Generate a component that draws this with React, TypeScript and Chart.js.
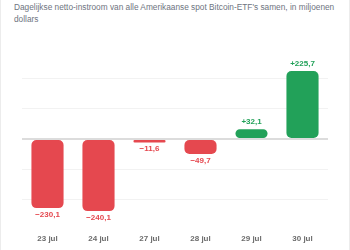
import React, { useEffect, useRef } from "react";
import { Chart, registerables } from "chart.js";

Chart.register(...registerables);

const days = ["23 jul", "24 jul", "27 jul", "28 jul", "29 jul", "30 jul"];
const netFlows = [-230.1, -240.1, -11.6, -49.7, 32.1, 225.7];
const titleLines = [
  "Dagelijkse netto-instroom van alle Amerikaanse spot Bitcoin-ETF's samen, in miljoenen",
  "dollars",
];

const RED = "#e5484f";
const GREEN = "#22a159";

const fmt = (v: number) => (v > 0 ? "+" : "\u2212") + Math.abs(v).toFixed(1).replace(".", ",");

const valueLabels = {
  id: "valueLabels",
  afterDatasetsDraw(chart: any) {
    const ctx = chart.ctx;
    const meta = chart.getDatasetMeta(0);
    ctx.save();
    ctx.font = "bold 8px 'Liberation Sans', Arial, sans-serif";
    ctx.textAlign = "center";
    ctx.textBaseline = "middle";
    meta.data.forEach((bar: any, i: number) => {
      const v = netFlows[i];
      ctx.fillStyle = v >= 0 ? GREEN : RED;
      const y = v >= 0 ? bar.y - 7.5 : bar.y + 6.5;
      ctx.fillText(fmt(v), bar.x, y);
    });
    ctx.restore();
  },
};

const gridColor = (c: any) => {
  const v = c.tick ? c.tick.value : NaN;
  if (v === 0) return "#dcdcdc";
  return v % 100 === 0 ? "#f2f2f2" : "rgba(0,0,0,0)";
};

export default function App() {
  const ref = useRef<HTMLCanvasElement | null>(null);

  useEffect(() => {
    if (!ref.current) return;
    const chart = new Chart(ref.current, {
      type: "bar",
      data: {
        labels: days,
        datasets: [
          {
            data: netFlows,
            backgroundColor: netFlows.map((v) => (v >= 0 ? GREEN : RED)),
            borderRadius: 5,
            borderSkipped: false,
            barPercentage: 0.63,
            categoryPercentage: 1,
          },
        ],
      },
      options: {
        animation: false,
        responsive: false,
        layout: { padding: { top: 60.8, bottom: 8.3, left: 22, right: 22 } },
        plugins: { legend: { display: false }, tooltip: { enabled: false } },
        scales: {
          x: {
            grid: { display: false, drawTicks: false },
            border: { display: false },
            ticks: {
              color: "#6b6b6b",
              padding: 13.5,
              font: { size: 8, weight: "bold", family: "'Liberation Sans', Arial, sans-serif" },
            },
          },
          y: {
            min: -270,
            max: 260,
            border: { display: false },
            ticks: { display: false, stepSize: 100 },
            grid: {
              drawTicks: false,
              color: gridColor,
              lineWidth: (c: any) => (c.tick && c.tick.value === 0 ? 2 : 1),
            },
          },
        },
      },
      plugins: [valueLabels],
    });
    return () => chart.destroy();
  }, []);

  return (
    <div
      style={{
        position: "fixed",
        left: 0,
        top: 0,
        width: 350,
        height: 250,
        background: "#fff",
        boxSizing: "border-box",
        borderLeft: "1px solid #ececec",
        borderRight: "1px solid #ececec",
        overflow: "hidden",
      }}
    >
      <div
        style={{
          position: "absolute",
          left: 13,
          top: 1,
          whiteSpace: "nowrap",
          fontFamily: "'Liberation Sans', Arial, sans-serif",
          fontSize: 8.3,
          lineHeight: "12px",
          color: "#6e7480",
        }}
      >
        {titleLines.map((l) => (
          <div key={l}>{l}</div>
        ))}
      </div>
      <canvas ref={ref} width={350} height={265} style={{ position: "absolute", left: -1, top: 0 }} />
    </div>
  );
}
